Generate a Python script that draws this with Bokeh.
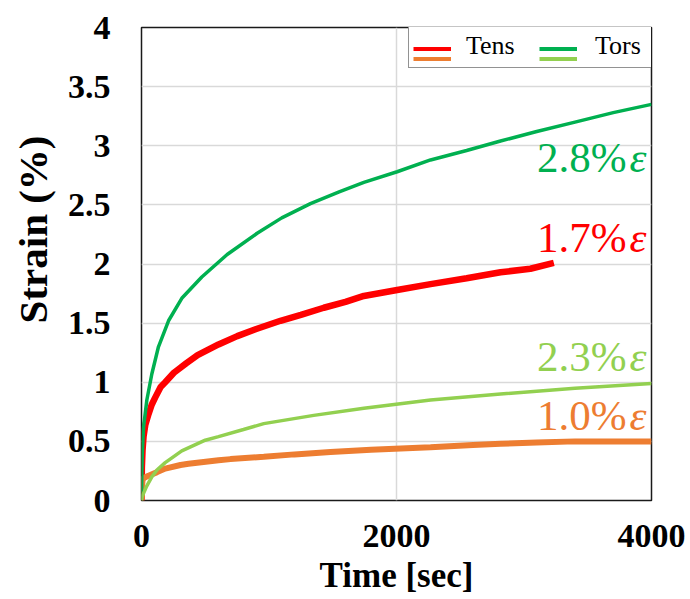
from bokeh.plotting import figure
from bokeh.models import (ColumnDataSource, FixedTicker, Legend, LegendItem, Range1d, Title)
from bokeh.core.properties import value
from bokeh.embed import file_html
from bokeh.resources import INLINE

# ---- creep data: time [sec] vs strain [%] ----
tens17_t = [0, 3, 8, 16, 30, 55, 80, 107, 150, 186, 254, 290, 350, 440, 604, 751, 900,
            1090, 1250, 1430, 1600, 1744, 2005, 2267, 2550, 2816, 3050, 3234]
tens17_s = [0, 0.28, 0.42, 0.54, 0.64, 0.73, 0.81, 0.87, 0.96, 1.00, 1.08, 1.11, 1.16,
            1.23, 1.32, 1.39, 1.45, 1.52, 1.57, 1.63, 1.68, 1.73, 1.78, 1.83, 1.88, 1.93,
            1.96, 2.01]

tens10_t = [0, 3, 8, 18, 55, 123, 186, 306, 369, 604, 698, 959, 1200, 1482, 1800, 2267,
            2600, 2816, 3100, 3400, 3700, 4000]
tens10_s = [0, 0.10, 0.17, 0.19, 0.21, 0.24, 0.27, 0.30, 0.31, 0.34, 0.35, 0.37, 0.39,
            0.41, 0.43, 0.45, 0.47, 0.48, 0.49, 0.50, 0.50, 0.50]

tors28_t = [0, 2, 6, 16, 42, 81, 133, 212, 316, 473, 672, 907, 1100, 1325, 1550, 1744,
            2005, 2267, 2550, 2816, 3100, 3400, 3700, 4000]
tors28_s = [0, 0.20, 0.40, 0.62, 0.85, 1.07, 1.30, 1.52, 1.71, 1.89, 2.08, 2.26, 2.39,
            2.51, 2.61, 2.69, 2.78, 2.88, 2.96, 3.04, 3.12, 3.20, 3.28, 3.35]

tors23_t = [0, 5, 16, 40, 81, 123, 186, 316, 500, 604, 800, 959, 1351, 1744, 2267, 2816,
            3400, 4000]
tors23_s = [0, 0.03, 0.06, 0.12, 0.20, 0.26, 0.32, 0.42, 0.51, 0.54, 0.60, 0.65, 0.72,
            0.78, 0.85, 0.90, 0.95, 0.99]

# curve annotations (applied strain level)
note_text = ["2.8%", "1.7%", "2.3%", "1.0%"]
note_x = [3961, 3961, 3961, 3961]
note_y = [2.90, 2.22, 1.22, 0.72]
note_color = ["#00b050", "#ff0000", "#92d050", "#ed7d31"]

x_ticks = [0, 2000, 4000]
y_ticks = [0, 0.5, 1, 1.5, 2, 2.5, 3, 3.5, 4]
y_tick_labels = ["0", "0.5", "1", "1.5", "2", "2.5", "3", "3.5", "4"]

RED, ORANGE, DGREEN, LGREEN = "#ff0000", "#ed7d31", "#00b050", "#92d050"
SERIF = "Liberation Serif"

FRAME_W, FRAME_H = 510, 473
p = figure(width=690, height=599, output_backend="svg", toolbar_location=None,
           x_range=Range1d(0, 4000), y_range=Range1d(0, 4),
           min_border_left=141, min_border_right=39, min_border_top=27,
           min_border_bottom=99)
p.background_fill_color = "white"
p.border_fill_color = "white"
p.outline_line_color = "#1a1a1a"
p.outline_line_width = 1.5

# axes
p.xaxis.ticker = FixedTicker(ticks=x_ticks)
p.yaxis.ticker = FixedTicker(ticks=y_ticks)
p.yaxis.major_label_overrides = {t: s for t, s in zip(y_ticks, y_tick_labels)}
p.xaxis.axis_label = "Time [sec]"
for ax in (p.xaxis, p.yaxis):
    ax.axis_line_color = None
    ax.major_tick_line_color = None
    ax.minor_tick_line_color = None
    ax.major_tick_out = 0
    ax.major_tick_in = 0
    ax.major_label_text_font = SERIF
    ax.major_label_text_font_style = "bold"
    ax.major_label_text_font_size = "34px"
    ax.major_label_text_color = "black"
p.xaxis.axis_label_text_font = SERIF
p.xaxis.axis_label_text_font_style = "bold"
p.xaxis.axis_label_text_color = "black"
p.xaxis.axis_label_text_font_size = "35px"
p.yaxis.major_label_standoff = 31
p.xaxis.major_label_standoff = 24
p.xaxis.axis_label_standoff = 6

# vertical axis title, set a little above the middle of the axis
ytitle = Title(text="Strain (%)", align="right", offset=108, vertical_align="middle",
               text_font=SERIF, text_font_style="bold", text_font_size="41px",
               text_color="black", standoff=15)
p.add_layout(ytitle, "left")

p.xgrid.ticker = FixedTicker(ticks=x_ticks)
p.ygrid.ticker = FixedTicker(ticks=y_ticks)
for g in (p.xgrid, p.ygrid):
    g.grid_line_color = "#d9d9d9"
    g.grid_line_width = 1.5

# curves
p.line(tens17_t, tens17_s, line_color=RED, line_width=6.5)
p.line(tens10_t, tens10_s, line_color=ORANGE, line_width=6)
p.line(tors28_t, tors28_s, line_color=DGREEN, line_width=3.5)
p.line(tors23_t, tors23_s, line_color=LGREEN, line_width=3.5)

# strain level labels: number in upright serif, epsilon in italic
notes = ColumnDataSource(dict(x=note_x, y=note_y, t=note_text, c=note_color,
                              eps=["\u03b5"] * len(note_text)))
p.text(x="x", y="y", text="t", text_color="c", source=notes, x_offset=-20,
       text_align="right", text_baseline="middle",
       text_font=value(SERIF), text_font_size="43px")
p.text(x="x", y="y", text="eps", text_color="c", source=notes,
       text_align="right", text_baseline="middle",
       text_font=value(SERIF), text_font_style="italic", text_font_size="43px")

# legend swatches: single-point lines (nothing drawn in the plot area);
# each test type shows a pair of stacked lines next to its label
sw_blank = p.line(tens17_t[:1], tens17_s[:1], line_alpha=0, line_width=4)
sw_red = p.line(tens17_t[:1], tens17_s[:1], line_color=RED, line_width=4)
sw_dgreen = p.line(tors28_t[:1], tors28_s[:1], line_color=DGREEN, line_width=4)
sw_orange = p.line(tens10_t[:1], tens10_s[:1], line_color=ORANGE, line_width=4)
sw_lgreen = p.line(tors23_t[:1], tors23_s[:1], line_color=LGREEN, line_width=4)

PAD, GLYPH_W, STANDOFF, LABEL_W, SPACING, ITEM_H = 6, 41, 10, 51, 27, 29
LEG_W = 2 * PAD + 2 * (GLYPH_W + STANDOFF + LABEL_W) + SPACING
LEG_H = 2 * PAD + ITEM_H
leg_left = FRAME_W - LEG_W
leg_bottom = FRAME_H - LEG_H

common = dict(orientation="horizontal", margin=0, padding=PAD,
              glyph_height=ITEM_H, label_height=ITEM_H,
              label_text_font=SERIF, label_text_font_size="26px",
              label_text_color="black")
legend_box = Legend(items=[LegendItem(label="Tens", renderers=[sw_blank]),
                           LegendItem(label="Tors", renderers=[sw_blank])],
                    location=(leg_left, leg_bottom), spacing=SPACING,
                    glyph_width=GLYPH_W, label_standoff=STANDOFF, label_width=LABEL_W,
                    border_line_color="#262626", border_line_width=1.2,
                    background_fill_color="white", background_fill_alpha=1.0,
                    **common)
# swatch rows: shorter lines, starting a little further in from the box edge
swatch = dict(spacing=SPACING - 3, glyph_width=GLYPH_W - 3,
              label_standoff=STANDOFF + 3, label_width=LABEL_W,
              border_line_color=None, background_fill_alpha=0.0, **common)
legend_upper = Legend(items=[LegendItem(label=" ", renderers=[sw_red]),
                             LegendItem(label=" ", renderers=[sw_dgreen])],
                      location=(leg_left + 5, leg_bottom + 5), **swatch)
legend_lower = Legend(items=[LegendItem(label=" ", renderers=[sw_orange]),
                             LegendItem(label=" ", renderers=[sw_lgreen])],
                      location=(leg_left + 5, leg_bottom - 5), **swatch)
p.add_layout(legend_box)
p.add_layout(legend_upper)
p.add_layout(legend_lower)

open("out.html", "w").write(file_html(p, INLINE))
